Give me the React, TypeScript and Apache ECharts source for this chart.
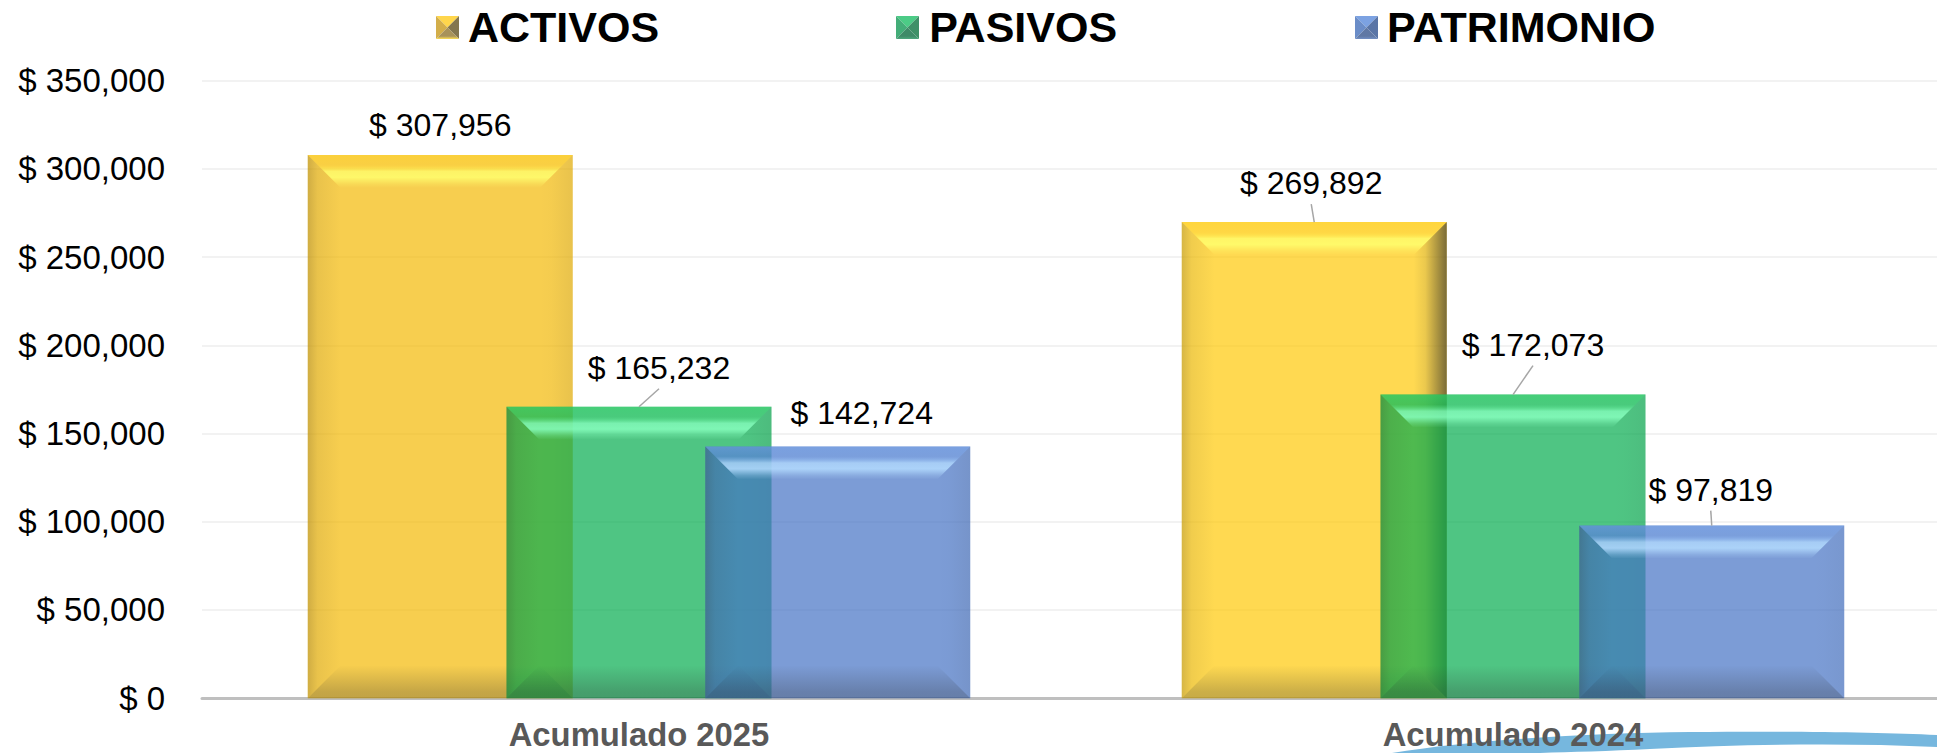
import React, { useEffect, useRef } from "react";
import * as echarts from "echarts";

const categories = ["Acumulado 2025", "Acumulado 2024"];
const seriesNames = ["ACTIVOS", "PASIVOS", "PATRIMONIO"];
const activos = [307956, 269892];
const pasivos = [165232, 172073];
const patrimonio = [142724, 97819];
const seriesValues = [activos, pasivos, patrimonio];
const axisMax = 350000;
const axisStep = 50000;

// Bar appearance (per series, per category)
const baseColors = [
  ["rgba(244,185,4,0.7)", "rgba(255,201,7,0.7)"],
  ["rgba(4,172,79,0.7)", "rgba(4,172,79,0.7)"],
  ["rgba(68,114,196,0.7)", "rgba(68,114,196,0.7)"],
];
const legendColors = ["#FFC000", "#00B050", "#4472C4"];
const highlight = ["255,255,110", "135,255,190", "180,220,255"];
const rimTop = ["255,210,40", "60,215,110", "120,165,235"];
const rightShade = [
  [0.07, 0.62],
  [0.06, 0.05],
  [0.07, 0.04],
];
// Label offset from the default position above each bar, and whether a leader line is drawn
const labelOffsets = [
  [[0, -9], [-3, -18]],
  [[20, -18], [20, -29]],
  [[24, -12], [-1, -15]],
];
const leaderLines = [
  [false, true],
  [true, true],
  [false, true],
];

const BAR_W = 265;
const BAR_STEP = 198.75;
const BEVEL = 33;
const GRID_LEFT = 202;
const GRID_TOP = 80.7;
const GRID_W = 1748;
const GRID_H = 617.5;
const LABEL_FONT = 32;

const swooshPath =
  "M1392 753 C1470 740 1590 733 1690 732 C1790 731 1880 732 1937 735 L1937 747 C1850 743 1750 744 1650 749 C1610 751 1570 752 1540 753 Z";

const swatches = [
  { x: 436, top: "#ffd64c", left: "#d3ae4a", right: "#84764f", bottom: ["#a8925a", "#ffdf55"] },
  { x: 896, top: "#4ccb86", left: "#43ad78", right: "#3f9068", bottom: ["#3f8a68", "#4fa87e"] },
  { x: 1355, top: "#7ca2e2", left: "#6b8dc8", right: "#5a75a6", bottom: ["#6078a4", "#7390c4"] },
];

const vGrad = (stops: [number, string][]) =>
  new echarts.graphic.LinearGradient(0, 0, 0, 1, stops.map(([offset, color]) => ({ offset, color })));
const hGrad = (stops: [number, string][]) =>
  new echarts.graphic.LinearGradient(0, 0, 1, 0, stops.map(([offset, color]) => ({ offset, color })));

function bevelRenderer(sIdx: number) {
  return (_params: any, api: any) => {
    const cat = api.value(0);
    const val = api.value(1);
    const [cx, yTop] = api.coord([cat, val]);
    const [, yBase] = api.coord([cat, 0]);
    const x0 = cx + (sIdx - 1) * BAR_STEP - BAR_W / 2;
    const x1 = x0 + BAR_W;
    const h = rimTop[sIdx];
    const w = highlight[sIdx];
    const children: any[] = [
      {
        type: "polygon",
        shape: { points: [[x0, yTop], [x1, yTop], [x1 - BEVEL, yTop + BEVEL], [x0 + BEVEL, yTop + BEVEL]] },
        style: {
          fill: vGrad([
            [0, `rgba(${h},0.5)`],
            [0.3, `rgba(${h},0.3)`],
            [0.5, `rgba(${w},0.75)`],
            [0.68, `rgba(${w},0.85)`],
            [0.88, `rgba(${w},0.25)`],
            [1, `rgba(${w},0)`],
          ]),
        },
      },
      {
        type: "polygon",
        shape: { points: [[x0, yTop], [x0 + BEVEL, yTop + BEVEL], [x0 + BEVEL, yBase - BEVEL], [x0, yBase]] },
        style: { fill: hGrad([[0, "rgba(50,40,20,0.2)"], [0.3, "rgba(50,40,20,0.07)"], [1, "rgba(50,40,20,0)"]]) },
      },
      {
        type: "polygon",
        shape: { points: [[x1, yTop], [x1, yBase], [x1 - BEVEL, yBase - BEVEL], [x1 - BEVEL, yTop + BEVEL]] },
        style: {
          fill: hGrad([
            [0, "rgba(40,40,40,0)"],
            [0.35, `rgba(40,40,40,${rightShade[sIdx][cat] * 0.15})`],
            [1, `rgba(40,40,40,${rightShade[sIdx][cat]})`],
          ]),
        },
      },
      {
        type: "polygon",
        shape: { points: [[x0, yBase], [x0 + BEVEL, yBase - BEVEL], [x1 - BEVEL, yBase - BEVEL], [x1, yBase]] },
        style: { fill: vGrad([[0, "rgba(40,40,40,0)"], [0.8, "rgba(40,40,40,0.24)"], [1, "rgba(40,40,40,0.26)"]]) },
      },
    ];
    if (leaderLines[sIdx][cat]) {
      const [dx, dy] = labelOffsets[sIdx][cat];
      const topX = cx + (sIdx - 1) * BAR_STEP;
      children.push({
        type: "line",
        shape: { x1: topX, y1: yTop, x2: topX + dx, y2: yTop + dy },
        style: { stroke: "#a6a6a6", lineWidth: 1.5 },
      });
    }
    return { type: "group", children };
  };
}

export default function App() {
  const ref = useRef<HTMLDivElement | null>(null);
  useEffect(() => {
    if (!ref.current) return;
    echarts.graphic.registerShape("swoosh", echarts.graphic.extendPath(swooshPath, {}) as any);
    const chart = echarts.init(ref.current, undefined, { renderer: "svg" });

    const barSeries = seriesNames.map((name, s) => ({
      name,
      type: "bar",
      z: 2 + s * 2,
      barWidth: BAR_W,
      barGap: "-25%",
      itemStyle: { color: legendColors[s] },
      data: seriesValues[s].map((value, c) => ({
        value,
        itemStyle: { color: baseColors[s][c] },
        label: {
          show: true,
          position: "top",
          offset: [labelOffsets[s][c][0], labelOffsets[s][c][1]],
          distance: 5,
          color: "#000",
          fontFamily: "Liberation Sans",
          fontSize: LABEL_FONT,
          formatter: (p: any) => "$ " + Number(p.value).toLocaleString("en-US"),
        },
      })),
    }));
    const bevelSeries = seriesNames.map((name, s) => ({
      name: name + " bisel",
      type: "custom",
      z: 3 + s * 2,
      silent: true,
      clip: false,
      encode: { x: 0, y: 1 },
      renderItem: bevelRenderer(s),
      data: seriesValues[s].map((v, c) => [c, v]),
    }));

    const swatchEls: any[] = [];
    swatches.forEach((sw) => {
      const x = sw.x;
      const y = 16;
      const n = 23;
      const m: [number, number] = [x + n / 2, y + n / 2];
      swatchEls.push(
        { type: "polygon", z: 50, shape: { points: [[x, y], [x + n, y], m] }, style: { fill: sw.top } },
        { type: "polygon", z: 50, shape: { points: [[x, y], m, [x, y + n]] }, style: { fill: sw.left } },
        { type: "polygon", z: 50, shape: { points: [[x + n, y], [x + n, y + n], m] }, style: { fill: sw.right } },
        {
          type: "polygon",
          z: 50,
          shape: { points: [[x, y + n], m, [x + n, y + n]] },
          style: { fill: vGrad([[0, sw.bottom[0]], [0.75, sw.bottom[0]], [1, sw.bottom[1]]]) },
        }
      );
    });

    chart.setOption({
      animation: false,
      backgroundColor: "#fff",
      textStyle: { fontFamily: "Liberation Sans" },
      grid: { left: GRID_LEFT, top: GRID_TOP, width: GRID_W, height: GRID_H, containLabel: false },
      legend: {
        data: seriesNames,
        left: 431,
        top: 0,
        icon: "rect",
        itemWidth: 23,
        itemHeight: 23,
        itemGap: 238,
        selectedMode: false,
        itemStyle: { opacity: 0 },
        textStyle: {
          fontFamily: "Liberation Sans",
          fontSize: 43,
          fontWeight: "bold",
          color: "#000",
          padding: [0, 0, 0, 4],
        },
      },
      xAxis: {
        type: "category",
        data: categories,
        axisTick: { show: false },
        axisLine: { lineStyle: { color: "#bfbfbf", width: 3 } },
        axisLabel: {
          color: "#595959",
          fontFamily: "Liberation Sans",
          fontSize: 32.8,
          fontWeight: "bold",
          margin: 20,
          hideOverlap: false,
        },
      },
      yAxis: {
        type: "value",
        min: 0,
        max: axisMax,
        interval: axisStep,
        axisLine: { show: false },
        axisTick: { show: false },
        splitLine: { lineStyle: { color: "#f2f2f2", width: 2 } },
        axisLabel: {
          color: "#000",
          fontFamily: "Liberation Sans",
          fontSize: 33,
          margin: 37,
          formatter: (v: number) => "$ " + v.toLocaleString("en-US"),
        },
      },
      graphic: [
        { type: "swoosh", x: 0, y: 0, z: 0, silent: true, style: { fill: "#76b7de" } },
        ...swatchEls,
      ],
      series: [...barSeries, ...bevelSeries],
    } as any);
    return () => chart.dispose();
  }, []);
  return (
    <div style={{ position: "absolute", left: 0, top: 0, width: 1937, height: 753, overflow: "hidden" }}>
      <div ref={ref} style={{ width: GRID_LEFT + GRID_W, height: 753 }} />
    </div>
  );
}
